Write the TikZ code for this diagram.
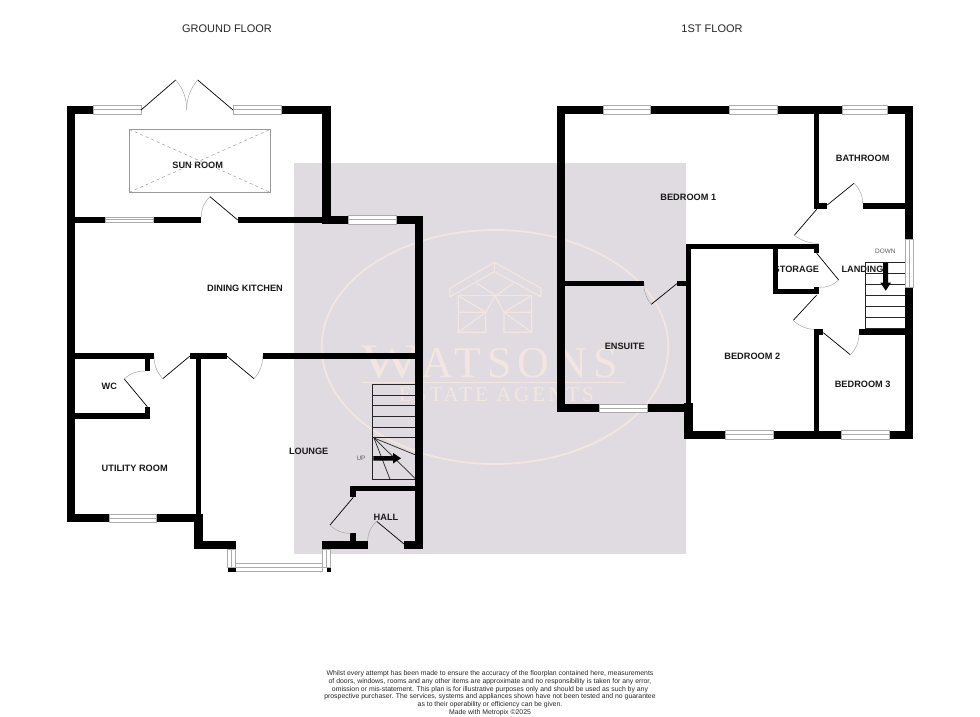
\documentclass[tikz,border=0pt]{standalone}
\usepackage{fontspec}
\setmainfont{Liberation Sans}
\newfontfamily\crestfont[LetterSpace=13.5]{Liberation Serif}
\newfontfamily\crestsmall[LetterSpace=14]{Liberation Serif}
\newfontfamily\crestinitial{Liberation Serif}
\usepackage{xcolor}
\usepackage{tikz}
\usetikzlibrary{calc}
\definecolor{patch}{RGB}{224,219,224}
\definecolor{crest}{RGB}{243,230,225}
\tikzstyle{wall} = [fill=black]
\tikzstyle{glass} = [draw=gray!65, line width=.8pt, fill=white]
\tikzstyle{doorleaf} = [black, line width=.7pt]
\tikzstyle{doorarc} = [gray!70, line width=.5pt]
\tikzstyle{tread} = [black!85, line width=.7pt]
\tikzstyle{crestline} = [crest, line width=1.2pt]
\tikzstyle{room} = [font=\fontsize{9.2}{10}\selectfont\bfseries, text=black!90]
\tikzstyle{floortitle} = [font=\fontsize{11}{12}\selectfont, text=black!85]
\tikzstyle{stairnote} = [font=\fontsize{6.4}{7}\selectfont, text=black!65]
% window across a horizontal wall and across a vertical wall
\newcommand{\hwin}[4]{\draw[glass] (#1,#2) rectangle (#3,#4); \draw[glass] (#1,{(#2+#4)/2}) -- (#3,{(#2+#4)/2});}
\newcommand{\vwin}[4]{\draw[glass] (#1,#2) rectangle (#3,#4); \draw[glass] ({(#1+#3)/2},#2) -- ({(#1+#3)/2},#4);}
% door: hinge, leaf tip, end of swing
\newcommand{\door}[3]{\draw[doorleaf] (#1) -- (#2);
  \coordinate (swing) at ($(#1)+.57*(#2)+.57*(#3)-1.14*(#1)$);
  \draw[doorarc] (#2) .. controls ($(#2)!.667!(swing)$) and ($(#3)!.667!(swing)$) .. (#3);}

\begin{document}
\begin{tikzpicture}[x=1pt,y=-1pt]
\useasboundingbox (0,0) rectangle (980,717);

% Watermark
\fill[patch] (293.7,162.7) rectangle (686,554);
\draw[crest, line width=1.8pt] (495,347) ellipse (173.3 and 117);
\draw[crestline, line join=round] (450,288.3) -- (494.3,262.3) -- (541,288.3) -- (541,296.7) -- (494.3,271.7) -- (450,296.7) -- cycle;
\draw[crestline] (494.3,262.3) -- (494.3,271.7);
\draw[crestline] (458.3,295.7) -- (531.7,295.7);
\draw[crestline] (476.7,283.3) -- (496,295.7) -- (513.3,283.3);
\draw[crestline] (458.3,295.7) -- (458.3,332.3) -- (485.7,332.3) -- (485.7,312.3) -- (458.3,295.7);
\draw[crestline] (458.3,312.3) -- (485.7,312.3) -- (458.3,332.3);
\draw[crestline] (531.7,295.7) -- (531.7,332.3) -- (504,332.3) -- (504,312.3) -- (531.7,295.7);
\draw[crestline] (531.7,312.3) -- (504,312.3) -- (531.7,332.3);
\draw[crestline] (485.7,312.3) -- (495,295.7) -- (504,312.3);
\draw[crest, line width=.7pt] (361.7,382.3) -- (625,382.3);
\node[text=crest, anchor=base west, inner sep=0pt, xscale=1.3] (crestinit) at (361.7,377) {\crestinitial\fontsize{48}{50}\selectfont W};
\node[text=crest, anchor=base west, inner sep=0pt] (crestname) at (421.7,377) {\crestfont\fontsize{44}{46}\selectfont ATSONS};
\node[text=crest, anchor=base] (crestsub) at (496.5,401.7) {\crestsmall\fontsize{21}{22}\selectfont ESTATE AGENTS};

% Titles
\node[floortitle] (groundtitle) at (227,29) {GROUND FLOOR};
\node[floortitle] (firsttitle) at (712,29) {1ST FLOOR};

% Room labels
\node[room] (sunroom) at (197.7,165.7) {SUN ROOM};
\node[room] (kitchen) at (245,288.3) {DINING KITCHEN};
\node[room] (wc) at (109.3,386.7) {WC};
\node[room] (utility) at (134.7,468) {UTILITY ROOM};
\node[room] (lounge) at (308.7,451) {LOUNGE};
\node[room] (hall) at (386,517.3) {HALL};
\node[room] (bedroomone) at (688.3,197.3) {BEDROOM 1};
\node[room] (bathroom) at (862.7,158.7) {BATHROOM};
\node[room] (storage) at (796.4,269.3) {STORAGE};
\node[room] (landing) at (862.5,269.3) {LANDING};
\node[room] (ensuite) at (624.7,346.7) {ENSUITE};
\node[room] (bedroomtwo) at (752.3,356.7) {BEDROOM 2};
\node[room] (bedroomthree) at (862.7,384) {BEDROOM 3};
\node[stairnote] (upnote) at (361,458.7) {UP};
\node[stairnote] (downnote) at (885.3,251.3) {DOWN};

% Roof lantern
\draw[gray!80, line width=.7pt] (129.3,129.3) rectangle (270.3,192.3);
\draw[gray!80, line width=.5pt, dashed] (129.3,129.3) -- (270.3,192.3);
\draw[gray!80, line width=.5pt, dashed] (129.3,192.3) -- (270.3,129.3);

% Ground floor walls
\fill[wall] (66.7,105.7) rectangle (75.3,522.3);
\fill[wall] (66.7,105.7) rectangle (93.3,114);
\fill[wall] (281,105.7) rectangle (330.7,114);
\fill[wall] (322.3,105.7) rectangle (330.7,224);
\fill[wall] (75,217) rectangle (105.3,222.7);
\fill[wall] (153,217) rectangle (201.3,222.7);
\fill[wall] (237.7,217) rectangle (322.3,222.7);
\fill[wall] (322.3,215.7) rectangle (348.7,224);
\fill[wall] (396.7,215.7) rectangle (423.3,224);
\fill[wall] (415,215.7) rectangle (423.3,549);
\fill[wall] (75,353.3) rectangle (154,358.7);
\fill[wall] (145,353.3) rectangle (150.3,371);
\fill[wall] (190,353.3) rectangle (226.7,358.7);
\fill[wall] (262.7,353.3) rectangle (415,358.7);
\fill[wall] (195.7,353.3) rectangle (201,514);
\fill[wall] (75,413.3) rectangle (150.3,419);
\fill[wall] (145,406.7) rectangle (150.3,419);
\fill[wall] (66.7,514) rectangle (109,522.3);
\fill[wall] (156.7,514) rectangle (202.7,522.3);
\fill[wall] (194.3,514) rectangle (202.7,549);
\fill[wall] (194.3,541) rectangle (235.7,549);
\fill[wall] (322.3,541) rectangle (367.7,549);
\fill[wall] (350.3,533.3) rectangle (356,541);
\fill[wall] (350.3,485.7) rectangle (356,497.3);
\fill[wall] (350.3,485.7) rectangle (415,491.3);
\fill[wall] (404,541) rectangle (423.3,549);

% Ground floor windows
\hwin{93.3}{105.7}{141}{114}
\hwin{233}{105.7}{281}{114}
\hwin{105.3}{217}{153}{222.7}
\hwin{348.7}{215.7}{396.7}{224}
\hwin{109}{514}{156.7}{522.3}
\vwin{227.5}{549}{235.7}{567.7}
\vwin{322.3}{549}{330.7}{567.7}
\hwin{235.7}{563.3}{322.3}{571.7}
\fill[wall] (227.5,567.7) rectangle (235.7,571.7);
\fill[wall] (326.7,567.7) rectangle (330.7,571.7);

% Ground floor doors
\door{141,110}{175.7,80}{186.7,110}
\door{233,110}{197.7,80}{186.7,110}
\door{237.7,220}{210,196.7}{201.3,217}
\door{190,356}{162.7,378.7}{154,356}
\door{226.7,356}{254,378.7}{262.7,356}
\door{147.3,406.7}{124.3,379}{145,371}
\door{353.3,497.3}{330,525}{350.7,533.3}
\door{404,544}{376.7,521.3}{367.7,541}

% Ground floor stairs
\draw[tread] (415,384.7) -- (372.7,384.7) -- (372.7,479.3) -- (415,479.3);
\draw[tread] (372.7,395) -- (415,395);
\draw[tread] (372.7,405.7) -- (415,405.7);
\draw[tread] (372.7,416.3) -- (415,416.3);
\draw[tread] (372.7,427) -- (415,427);
\draw[tread] (372.7,437.3) -- (415,437.3);
\draw[tread] (374,438) -- (415,454.7);
\draw[tread] (374,438) -- (415,478.3);
\draw[tread] (374,438) -- (390,479.3);
\fill[black] (373.3,456) -- (393,456) -- (393,453) -- (401,458.3) -- (393,463.5) -- (393,460.7) -- (373.3,460.7) -- cycle;

% First floor walls
\fill[wall] (556.7,105.7) rectangle (565.3,412.3);
\fill[wall] (556.7,105.7) rectangle (603.3,114);
\fill[wall] (650.3,105.7) rectangle (729.7,114);
\fill[wall] (777,105.7) rectangle (842.3,114);
\fill[wall] (887,105.7) rectangle (913.3,114);
\fill[wall] (905,105.7) rectangle (913.3,239.7);
\fill[wall] (905,287.3) rectangle (913.3,439);
\fill[wall] (814,114) rectangle (819.3,209);
\fill[wall] (814,203.3) rectangle (826.7,209);
\fill[wall] (862.7,203.3) rectangle (905,209);
\fill[wall] (685.7,243.7) rectangle (819.3,249);
\fill[wall] (814,243.7) rectangle (819.3,253.3);
\fill[wall] (685.7,243.7) rectangle (691,403.3);
\fill[wall] (684.3,403.3) rectangle (692.7,439);
\fill[wall] (773,249) rectangle (778.3,294.3);
\fill[wall] (773,289) rectangle (819.3,294.3);
\fill[wall] (814,287.3) rectangle (819.3,294.3);
\fill[wall] (814,329.3) rectangle (819.3,439);
\fill[wall] (814,329.3) rectangle (823.3,334.7);
\fill[wall] (859,329.3) rectangle (905,334.7);
\fill[wall] (565.3,280.7) rectangle (644,286);
\fill[wall] (677.3,280.7) rectangle (685.7,286);
\fill[wall] (556.7,404) rectangle (599.3,412.3);
\fill[wall] (647,404) rectangle (692.7,412.3);
\fill[wall] (684.3,430.7) rectangle (725.7,439);
\fill[wall] (773,430.7) rectangle (841.7,439);
\fill[wall] (889.3,430.7) rectangle (913.3,439);

% First floor windows
\hwin{603.3}{105.7}{650.3}{114}
\hwin{729.7}{105.7}{777}{114}
\hwin{842.3}{105.7}{887}{114}
\vwin{905}{239.7}{913.3}{287.3}
\hwin{599.3}{404}{647}{412.3}
\hwin{725.7}{430.7}{773}{439}
\hwin{841.7}{430.7}{889.3}{439}

% First floor doors
\door{827.3,205}{854,183.3}{862.7,203.3}
\door{816.7,209.3}{794.3,235.3}{818.7,243.3}
\door{816.7,253.3}{838.7,280}{819.3,287.3}
\door{816.7,295}{793.3,320.3}{814,329.3}
\door{823.3,332.7}{850.3,354.7}{859,334}
\door{677.3,283.3}{651.3,304.3}{644,283.3}

% First floor stairs
\draw[tread] (905,262.7) -- (865.7,262.7) -- (865.7,328.3) -- (905,328.3);
\draw[tread] (865.7,273.3) -- (905,273.3);
\draw[tread] (865.7,284.3) -- (905,284.3);
\draw[tread] (865.7,295.3) -- (905,295.3);
\draw[tread] (865.7,306.7) -- (905,306.7);
\draw[tread] (865.7,317.7) -- (905,317.7);
\fill[black] (883.2,262.7) -- (888.2,262.7) -- (888.2,282.7) -- (891,282.7) -- (885.7,290.7) -- (880.4,282.7) -- (883.2,282.7) -- cycle;

% Disclaimer
\node[align=center, text=black!85, font=\fontsize{6.87}{7.68}\selectfont] (disclaimer) at (490,693.2) {Whilst every attempt has been made to ensure the accuracy of the floorplan contained here, measurements\\
of doors, windows, rooms and any other items are approximate and no responsibility is taken for any error,\\
omission or mis-statement. This plan is for illustrative purposes only and should be used as such by any\\
prospective purchaser. The services, systems and appliances shown have not been tested and no guarantee\\
as to their operability or efficiency can be given.\\
Made with Metropix \textcopyright 2025};
\end{tikzpicture}
\end{document}
